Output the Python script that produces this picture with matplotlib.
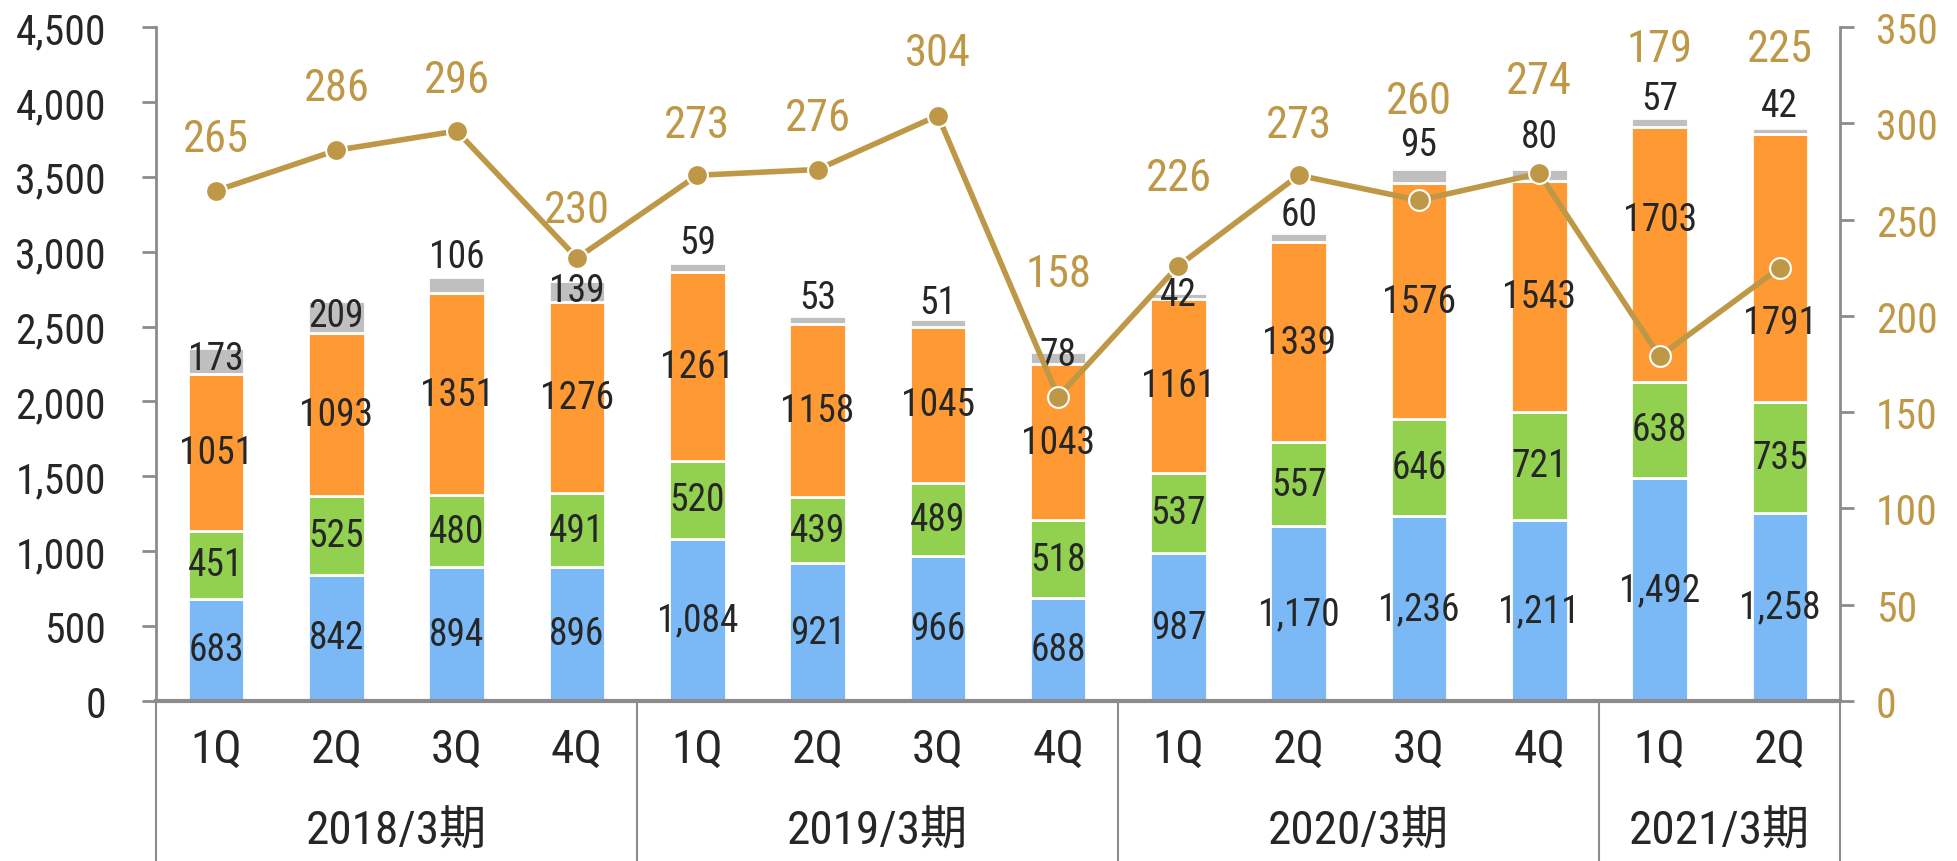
import numpy as np
import matplotlib
matplotlib.use("Agg")
import matplotlib.pyplot as plt

plt.rcParams['font.family'] = ['Roboto Condensed', 'IBM Plex Sans Condensed', 'Noto Sans CJK JP', 'DejaVu Sans']

# data
quarters = ['1Q', '2Q', '3Q', '4Q', '1Q', '2Q', '3Q', '4Q', '1Q', '2Q', '3Q', '4Q', '1Q', '2Q']
periods = ['2018/3期', '2019/3期', '2020/3期', '2021/3期']
period_sizes = [4, 4, 4, 2]

blue = [683, 842, 894, 896, 1084, 921, 966, 688, 987, 1170, 1236, 1211, 1492, 1258]
green = [451, 525, 480, 491, 520, 439, 489, 518, 537, 557, 646, 721, 638, 735]
orange = [1051, 1093, 1351, 1276, 1261, 1158, 1045, 1043, 1161, 1339, 1576, 1543, 1703, 1791]
gray = [173, 209, 106, 139, 59, 53, 51, 78, 42, 60, 95, 80, 57, 42]
line_vals = [265, 286, 296, 230, 273, 276, 304, 158, 226, 273, 260, 274, 179, 225]

# label nudges (pixels, + is up) as placed in the original
gray_dy = [-11, -14, 20, -9, 21, 18, 16, -2, -2, 18, 24, 32, 20, 22]
orange_dy = [0] * 12 + [35, -54]
line_dy = [52, 62, 51, 48, 50, 52, 63, 123, 88, 50, 99, 92, 307, 219]

C_BLUE = '#7BB9F6'
C_GREEN = '#92D050'
C_ORANGE = '#FE9934'
C_GRAY = '#BFBFBF'
C_GOLD = '#BE9846'
C_TEXT = '#262626'
C_AXIS = '#8C8C8C'
FS_TICK = 30
FS_BAR = 27
FS_LINE = 32
FS_CAT = 34

fig = plt.figure(figsize=(19.57, 8.62), dpi=100)
ax = fig.add_axes([156 / 1957, 1 - 702 / 862, (1840 - 156) / 1957, (702 - 28) / 862])
x = np.arange(len(quarters))
w = 0.47

bottom = np.zeros(len(x))
series = [(blue, C_BLUE), (green, C_GREEN), (orange, C_ORANGE), (gray, C_GRAY)]
for k, (vals, col) in enumerate(series):
    vals = np.array(vals)
    ax.bar(x, vals, w, bottom=bottom, color=col, edgecolor='white', linewidth=2, zorder=2)
    for i, v in enumerate(vals):
        if k == 0:
            txt, y, dy = f'{v:,}', bottom[i] + v / 2, 0
        elif k == 1:
            txt, y, dy = str(v), bottom[i] + v / 2, 0
        elif k == 2:
            txt, y, dy = str(v), bottom[i] + v / 2, orange_dy[i]
        else:
            txt, y, dy = str(v), bottom[i] + v, gray_dy[i]
        ax.annotate(txt, (i, y), xytext=(0, dy), textcoords='offset pixels',
                    ha='center', va='center', fontsize=FS_BAR, color=C_TEXT, zorder=3)
    bottom = bottom + vals

ax.set_xlim(-0.5, len(x) - 0.5)
ax.set_ylim(0, 4500)
ax.set_yticks(np.arange(0, 4501, 500))
ax.set_yticklabels([f'{t:,}' for t in range(0, 4501, 500)])
ax.set_xticks([])
ax.tick_params(axis='y', length=10, width=2, color=C_AXIS, pad=26, labelsize=FS_TICK, labelcolor=C_TEXT)
for s in ['top', 'right']:
    ax.spines[s].set_visible(False)
ax.spines['left'].set_color(C_AXIS)
ax.spines['left'].set_linewidth(2)
ax.spines['bottom'].set_color(C_AXIS)
ax.spines['bottom'].set_linewidth(3)

# category labels below the axis
tr = ax.get_xaxis_transform()
for i, q in enumerate(quarters):
    ax.text(i, -0.071, q, transform=tr, ha='center', va='center', fontsize=FS_CAT, color=C_TEXT)
edges = np.concatenate([[0], np.cumsum(period_sizes)]) - 0.5
for j, p in enumerate(periods):
    ax.text((edges[j] + edges[j + 1]) / 2, -0.192, p, transform=tr, ha='center', va='center',
            fontsize=FS_CAT, color=C_TEXT)
for e in edges:
    ax.plot([e, e], [0, -0.25], transform=tr, color=C_AXIS, lw=1.5, clip_on=False)

ax2 = ax.twinx()
ax2.set_ylim(0, 350)
ax2.set_yticks(np.arange(0, 351, 50))
ax2.plot(x, line_vals, color=C_GOLD, lw=4, marker='o', markersize=15,
         markerfacecolor=C_GOLD, markeredgecolor='white', markeredgewidth=1.5, zorder=4)
for i, v in enumerate(line_vals):
    ax2.annotate(str(v), (i, v), xytext=(0, line_dy[i]), textcoords='offset pixels',
                 ha='center', va='center', fontsize=FS_LINE, color=C_GOLD, zorder=5)
ax2.tick_params(axis='y', length=10, width=2, color=C_AXIS, pad=16, labelsize=FS_TICK, labelcolor=C_GOLD)
for s in ['top', 'left', 'bottom']:
    ax2.spines[s].set_visible(False)
ax2.spines['right'].set_color(C_AXIS)
ax2.spines['right'].set_linewidth(2)

fig.savefig('out.png', dpi=100)
